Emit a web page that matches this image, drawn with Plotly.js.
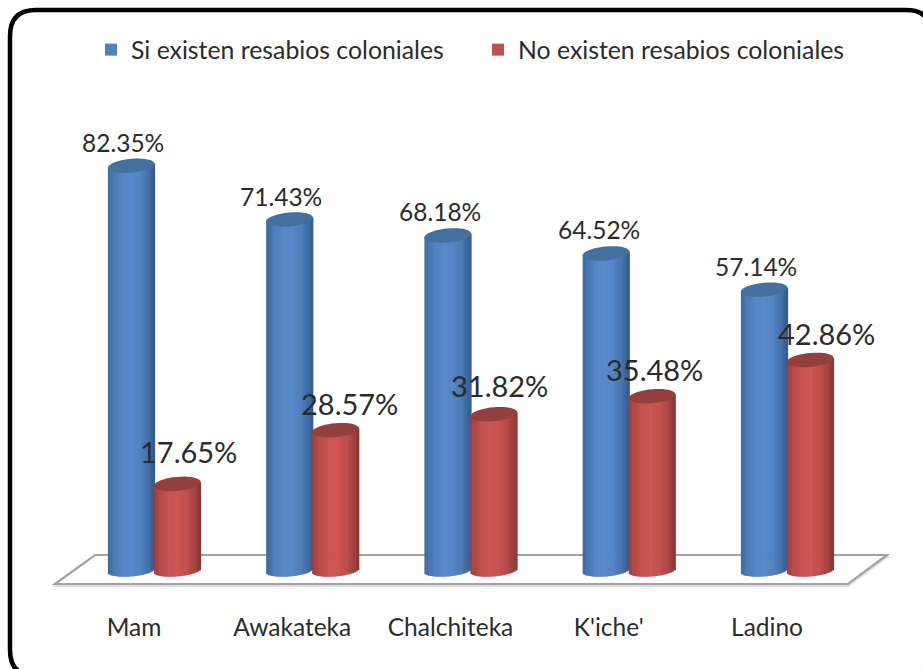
<!DOCTYPE html>
<html><head><meta charset="utf-8">
<script src="https://cdn.plot.ly/plotly-3.0.1.min.js"></script>
<style>html,body{margin:0;padding:0;background:#fff;overflow:hidden}</style>
</head><body><div id="chart" style="width:923px;height:669px"></div>
<script>
var categories = ["Mam", "Awakateka", "Chalchiteka", "K'iche'", "Ladino"];
var siValues = [82.35, 71.43, 68.18, 64.52, 57.14];
var noValues = [17.65, 28.57, 31.82, 35.48, 42.86];
var seriesNames = ["Si existen resabios coloniales", "No existen resabios coloniales"];
var FONT = "Lato, 'Open Sans', sans-serif";
var TEXT = "#2b2b2b";

var W = 923, H = 669, plotTop = 79, plotBottom = 610;
var pxPerCat = 158.25, pxPerUnit = 4.915;
var halfBar = 23.3 / pxPerCat;
var blueCenter = -23.8 / pxPerCat, redCenter = 22.2 / pxPerCat;
var ellH = 7 / pxPerUnit, ellBase = 5.8 / pxPerUnit, tilt = 2 / pxPerUnit;
var N = 26;

function mix(a, b, t) { return "rgb(" + a.map(function (v, i) { return Math.round(v + (b[i] - v) * t); }).join(",") + ")"; }
function shade(u, dark, light) { var t = Math.pow(Math.cos(Math.min(1, Math.abs(u + 0.08) / 1.08) * Math.PI / 2), 0.75); return mix(dark, light, t); }

var traces = [];
function addCylinder(vals, center, dark, light) {
  for (var k = 0; k < N; k++) {
    var u0 = -1 + 2 * k / N, u1 = -1 + 2 * (k + 1) / N, um = (u0 + u1) / 2;
    var base = vals.map(function () { return -ellBase * Math.sqrt(1 - um * um) + tilt * um; });
    traces.push({
      type: "bar", x: categories,
      y: vals.map(function (v, i) { return v + tilt * um - base[i]; }),
      base: base, offset: center + u0 * halfBar,
      width: (u1 - u0) * halfBar + 0.6 / pxPerCat,
      marker: { color: shade(um, dark, light), line: { width: 0 } },
      showlegend: false, hoverinfo: "skip"
    });
  }
}
var blueDark = [48, 86, 136], blueLight = [86, 137, 202];
var redDark = [128, 52, 50], redLight = [204, 84, 82];
addCylinder(siValues, blueCenter, blueDark, blueLight);
addCylinder(noValues, redCenter, redDark, redLight);

traces.push({ type: "bar", x: categories, y: categories.map(function () { return null; }), name: seriesNames[0], marker: { color: "#4F81BD" }, hoverinfo: "skip" });
traces.push({ type: "bar", x: categories, y: categories.map(function () { return null; }), name: seriesNames[1], marker: { color: "#C0504D" }, hoverinfo: "skip" });

function ellipsePath(i, center, v) {
  var s = "";
  for (var a = 0; a <= 40; a++) {
    var th = a / 40 * 2 * Math.PI, cu = Math.cos(th);
    s += (a ? "L" : "M") + (i + center + cu * halfBar) + "," + (v + Math.sin(th) * ellH + tilt * cu);
  }
  return s + "Z";
}
var shapes = [];
function px(x) { return x / W; }
function py(y) { return (plotBottom - y) / (plotBottom - plotTop); }
function poly(pts) { return "M" + pts.map(function (p) { return px(p[0]) + "," + py(p[1]); }).join("L") + "Z"; }
var floorPts = [[55, 584], [95, 555], [887, 555], [848, 584]];
shapes.push({ type: "path", xref: "paper", yref: "paper", layer: "below", path: poly(floorPts.map(function (p) { return [p[0], p[1] + 2]; })), line: { color: "#dedede", width: 2 }, fillcolor: "rgba(0,0,0,0)" });
shapes.push({ type: "path", xref: "paper", yref: "paper", layer: "below", path: poly(floorPts), line: { color: "#a3a3a3", width: 2.2 }, fillcolor: "#ffffff" });
categories.forEach(function (c, i) {
  shapes.push({ type: "path", xref: "x", yref: "y", layer: "above", path: ellipsePath(i, blueCenter, siValues[i]), line: { width: 0 }, fillcolor: "#44709f" });
  shapes.push({ type: "path", xref: "x", yref: "y", layer: "above", path: ellipsePath(i, redCenter, noValues[i]), line: { width: 0 }, fillcolor: "#943f3d" });
});
var fx0 = 10, fy0 = 10, fx1 = 932, fy1 = 676, r = 26;
function P(x, y) { return px(x) + "," + py(y); }
var framePath = "M" + P(fx0, fy0 + r) + "Q" + P(fx0, fy0) + " " + P(fx0 + r, fy0) + "L" + P(fx1 - r, fy0) + "Q" + P(fx1, fy0) + " " + P(fx1, fy0 + r) + "L" + P(fx1, fy1 - r) + "Q" + P(fx1, fy1) + " " + P(fx1 - r, fy1) + "L" + P(fx0 + r, fy1) + "Q" + P(fx0, fy1) + " " + P(fx0, fy1 - r) + "Z";
shapes.push({ type: "path", xref: "paper", yref: "paper", layer: "above", path: framePath, line: { color: "#000", width: 4.5 } });

var siShift = [[-8, 23], [-8, 23], [-8, 24], [-7, 24], [-8, 23]];
var noShift = [[11, 32], [14, 27], [6, 29], [3, 27], [16, 26]];
var annotations = [];
categories.forEach(function (c, i) {
  annotations.push({ x: i + blueCenter, y: siValues[i], xref: "x", yref: "y", text: siValues[i].toFixed(2) + "%", showarrow: false, xshift: siShift[i][0], yshift: siShift[i][1], font: { family: FONT, size: 24.5, color: TEXT } });
  annotations.push({ x: i + redCenter, y: noValues[i], xref: "x", yref: "y", text: noValues[i].toFixed(2) + "%", showarrow: false, xshift: noShift[i][0], yshift: noShift[i][1], font: { family: FONT, size: 29, color: TEXT } });
});

var layout = {
  width: W, height: H, paper_bgcolor: "#fff", plot_bgcolor: "rgba(0,0,0,0)",
  margin: { l: 0, r: 0, t: plotTop, b: H - plotBottom }, barmode: "overlay",
  xaxis: { type: "category", categoryorder: "array", categoryarray: categories, range: [-155 / pxPerCat, (W - 155) / pxPerCat], showgrid: false, zeroline: false, showline: false, ticks: "", ticklen: 0, ticklabelshift: -21, tickfont: { family: FONT, size: 24.5, color: TEXT }, fixedrange: true },
  yaxis: { range: [-8, 100], visible: false, showgrid: false, zeroline: false, fixedrange: true },
  legend: { orientation: "h", x: 91 / W, xanchor: "left", y: (plotBottom - 50) / (plotBottom - plotTop), yanchor: "middle", entrywidth: 348, entrywidthmode: "pixels", font: { family: FONT, size: 24.8, color: TEXT }, itemclick: false, itemdoubleclick: false, bgcolor: "rgba(0,0,0,0)" },
  shapes: shapes, annotations: annotations, showlegend: true
};
layout.legend.entrywidth = 342;
Plotly.newPlot("chart", traces, layout, { displayModeBar: false, staticPlot: true });
</script></body></html>
